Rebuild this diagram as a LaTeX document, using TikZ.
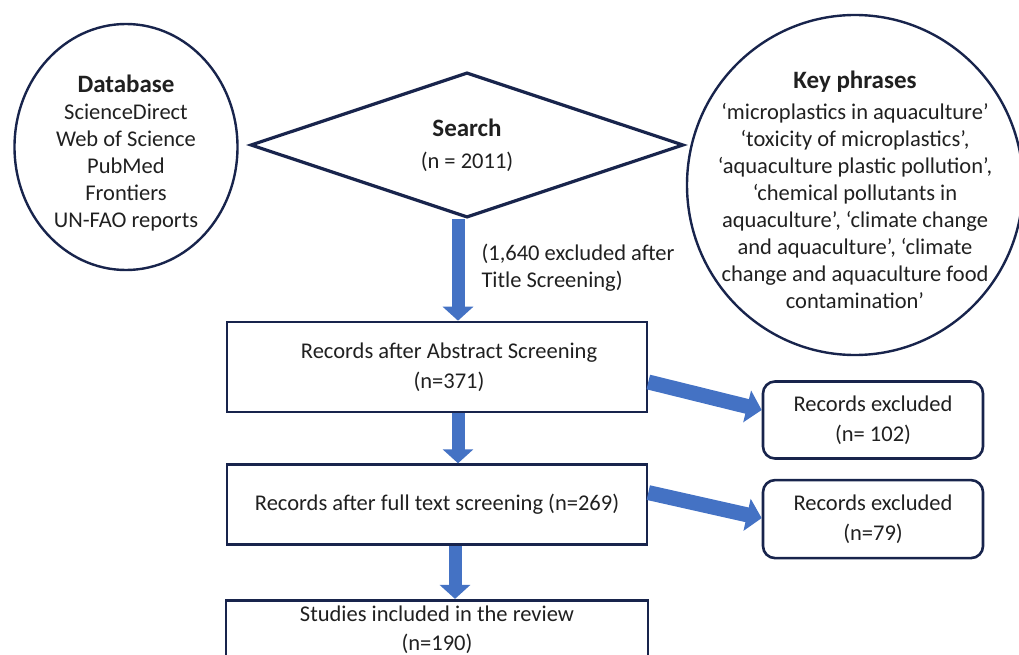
\documentclass[tikz,border=0pt]{standalone}
\usepackage{fontspec}
\setmainfont{Carlito}
\usepackage{tikz}
\usetikzlibrary{shapes.geometric, positioning, arrows.meta}
\definecolor{lineNavy}{RGB}{24, 36, 76}
\definecolor{arrowBlue}{RGB}{68, 114, 196}
\definecolor{textDark}{RGB}{32, 32, 32}
\newcommand{\titlefont}{\fontsize{25}{30}\selectfont\bfseries}
\tikzset{
    source_circle/.style={
        ellipse,
        draw=lineNavy,
        line width=2.4pt,
        inner sep=0pt
    },
    circle_text/.style={
        align=center,
        text=textDark,
        font=\fontsize{22.5}{27}\selectfont
    },
    search_diamond/.style={
        diamond,
        draw=lineNavy,
        line width=3.2pt,
        inner sep=0pt,
        minimum width=433pt,
        minimum height=134pt,
        align=center,
        text=textDark,
        font=\fontsize{22.5}{27}\selectfont
    },
    record_box/.style={
        rectangle,
        draw=lineNavy,
        line width=2.6pt,
        minimum width=420pt,
        minimum height=80pt,
        align=center,
        text=textDark,
        font=\fontsize{22.5}{30}\selectfont
    },
    excluded_box/.style={
        record_box,
        rounded corners=12pt,
        minimum width=220pt,
        minimum height=77pt
    },
    flow_arrow/.style={
        -{Triangle[width=30pt, length=14pt]},
        line width=13pt,
        draw=arrowBlue
    },
    side_arrow/.style={
        flow_arrow,
        line width=15pt,
        -{Triangle[width=32pt, length=15pt]}
    }
}

\begin{document}
\begin{tikzpicture}[x=1pt, y=-1pt, node distance=50pt]
    \useasboundingbox (0,0) rectangle (1019,655);
    \clip (0,0) rectangle (1019,655);

    \node[source_circle, minimum width=223pt, minimum height=246pt] (database) at (126,147) {};
    \node[circle_text] (databaseText) at (126,153)
        {{\titlefont Database}\\ScienceDirect\\Web of Science\\PubMed\\Frontiers\\UN-FAO reports};

    \node[source_circle, minimum width=336pt, minimum height=340pt] (keyphrases) at (855,185) {};
    \node[circle_text] (keyphrasesText) at (855,190)
        {{\titlefont Key phrases}\\[4pt]
         `microplastics in aquaculture'\\`toxicity of microplastics',\\
         `aquaculture plastic pollution',\\`chemical pollutants in\\
         aquaculture', `climate change\\and aquaculture', `climate\\
         change and aquaculture food\\contamination'};

    \node[search_diamond] (search) at (467,145) {{\titlefont Search}\\[5pt](n = 2011)};

    \node[record_box, minimum height=90pt] (abstract) at (437,367)
        {\hspace*{24pt}Records after Abstract Screening\\\hspace*{24pt}(n=371)};
    \node[record_box, below=50pt of abstract] (fulltext)
        {Records after full text screening (n=269)};
    \node[record_box, minimum width=422pt, minimum height=60pt, below=53pt of fulltext,
          font=\fontsize{22.5}{29}\selectfont] (included)
        {Studies included in the review\\(n=190)};

    \node[excluded_box] (excludedAbstract) at (873,420) {Records excluded\\(n= 102)};
    \node[excluded_box, minimum height=78pt, below=19pt of excludedAbstract] (excludedFull)
        {Records excluded\\(n=79)};

    \node[circle_text, align=left, anchor=west] (titleNote) at (478,268)
        {(1,640 excluded after\\Title Screening)};

    \draw[flow_arrow] ([xshift=-9pt]search.south) -- ([xshift=-9pt]search.south |- abstract.north);
    \draw[flow_arrow] ([xshift=21pt]abstract.south) -- ([xshift=21pt]abstract.south |- fulltext.north);
    \draw[flow_arrow] ([xshift=18pt]fulltext.south) -- ([xshift=18pt]fulltext.south |- included.north);
    \draw[side_arrow] ([yshift=-15pt]abstract.east) -- ([yshift=10pt]excludedAbstract.west);
    \draw[side_arrow] ([yshift=12pt]fulltext.east) -- ([yshift=1pt]excludedFull.west);
\end{tikzpicture}
\end{document}
